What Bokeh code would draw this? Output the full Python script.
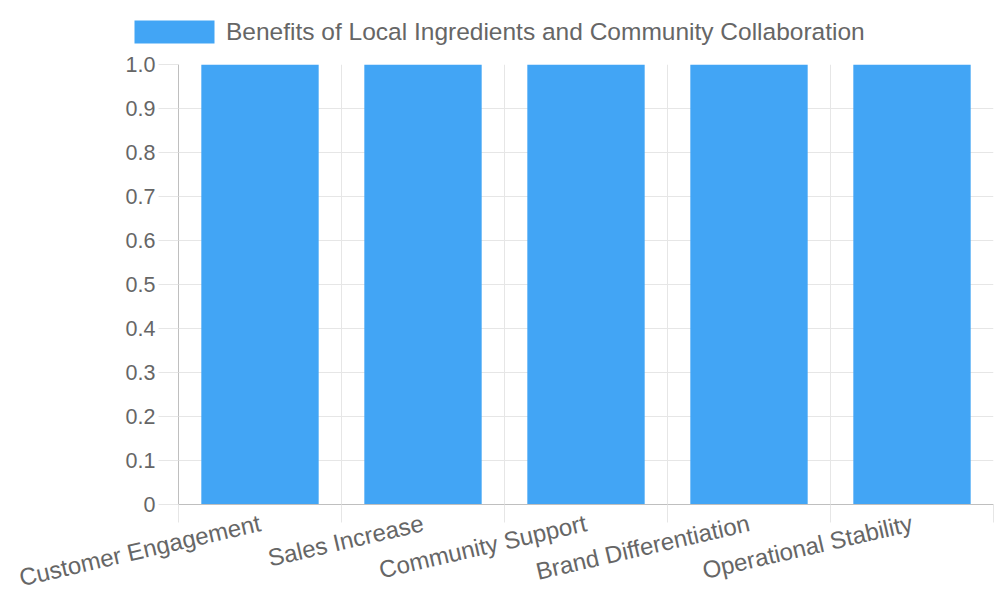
from bokeh.plotting import figure
from bokeh.layouts import column
from bokeh.models import Range1d, FixedTicker, PrintfTickFormatter, Legend, LegendItem
from bokeh.embed import file_html
from bokeh.resources import INLINE

categories = ["Customer Engagement", "Sales Increase", "Community Support",
              "Brand Differentiation", "Operational Stability"]
values = [1, 1, 1, 1, 1]
series_name = "Benefits of Local Ingredients and Community Collaboration"
y_ticks = [i / 10 for i in range(11)]

FONT = "Liberation Sans"
TEXT = "#666666"
GRID = "#e6e6e6"
AXIS = "#bfbfbf"
BAR = "#42A5F5"

n = len(categories)
centers = [i + 0.5 for i in range(n)]
bounds = list(range(n + 1))

W = 994

# strip on top that only holds the legend
top = figure(width=W, height=54, output_backend="svg", toolbar_location=None,
             x_range=Range1d(0, n), y_range=Range1d(0, 1),
             min_border=0, x_axis_location=None, y_axis_location=None)
top.frame_align = False
top.outline_line_color = None
top.grid.visible = False
proxy = top.vbar(x=centers, top=values, bottom=values, width=0.72,
                 fill_color=BAR, line_color=None)
# bokeh insets area swatches by 10% per side, so ask for a bigger glyph box
legend = Legend(items=[LegendItem(label=series_name, renderers=[proxy])],
                location=(124, 8), orientation="horizontal",
                glyph_width=100, glyph_height=29, label_standoff=2,
                label_text_font=FONT, label_text_font_size="24.5px", label_text_color=TEXT,
                padding=0, margin=0, border_line_color=None, background_fill_alpha=0)
top.add_layout(legend, "center")

p = figure(frame_width=815, frame_height=440, output_backend="svg", toolbar_location=None,
           x_range=Range1d(0, n), y_range=Range1d(0, 1.0),
           min_border_left=178, min_border_right=1, min_border_top=10, min_border_bottom=96)
p.outline_line_color = None

p.vbar(x=centers, top=values, width=0.72, fill_color=BAR, line_color=None)

# x axis: labels at centres, grid + tick marks at category boundaries
xa = p.xaxis[0]
xa.ticker = FixedTicker(ticks=centers, minor_ticks=bounds)
xa.major_label_overrides = {c: name for c, name in zip(centers, categories)}
xa.major_label_orientation = 0.227
xa.major_label_text_font = FONT
xa.major_label_text_font_size = "24px"
xa.major_label_text_color = TEXT
xa.major_label_standoff = 0
xa.major_tick_out = 0
xa.major_tick_in = 0
xa.major_tick_line_color = None
xa.minor_tick_line_color = GRID
xa.minor_tick_in = 0
xa.minor_tick_out = 18
xa.axis_line_color = AXIS
p.xgrid.grid_line_color = None
p.xgrid.minor_grid_line_color = GRID

ya = p.yaxis[0]
ya.ticker = FixedTicker(ticks=y_ticks, minor_ticks=[])
ya.formatter = PrintfTickFormatter(format="%.1f")
ya.major_label_overrides = {0: "0"}
ya.major_label_text_font = FONT
ya.major_label_text_font_size = "21.5px"
ya.major_label_text_color = TEXT
ya.major_label_standoff = 3
ya.major_tick_in = 0
ya.major_tick_out = 20
ya.major_tick_line_color = GRID
ya.axis_line_color = AXIS
p.ygrid.grid_line_color = GRID

layout = column(top, p)
open("out.html", "w").write(file_html(layout, INLINE))
